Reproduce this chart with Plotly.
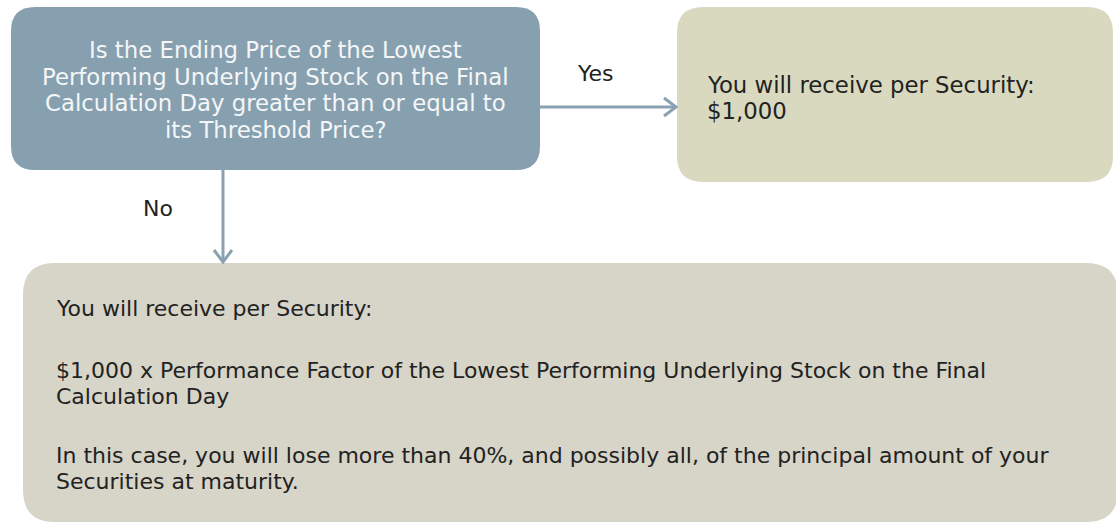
import plotly.graph_objects as go

# ---- Text content ----
question_lines = [
    "Is the Ending Price of the Lowest",
    "Performing Underlying Stock on the Final",
    "Calculation Day greater than or equal to",
    "its Threshold Price?",
]
yes_label = "Yes"
no_label = "No"
yes_outcome_lines = ["You will receive per Security:", "$1,000"]
no_outcome_lines = [
    "You will receive per Security:",
    "$1,000 x Performance Factor of the Lowest Performing Underlying Stock on the Final",
    "Calculation Day",
    "In this case, you will lose more than 40%, and possibly all, of the principal amount of your",
    "Securities at maturity.",
]

# ---- Layout geometry (page pixels, y downward) ----
W, H = 1116, 523
BLUE = "#87a0b0"
GREEN = "#d9d9c0"
BEIGE = "#d7d4c8"
ARROW = "#8aa1b1"
FONT = "DejaVu Sans, Verdana, sans-serif"
FS = 22
FS_TOP = 22.8

q_box = (11, 7, 540, 170, 24)
yes_box = (677, 7, 1113, 182, 26)
no_box = (23, 263, 1118, 522, 32)
q_line_y = [50, 77, 103, 130]
yes_line_y = [85, 111]
no_line_y = [308, 370, 396, 455, 481]


def rrect(x0, y0, x1, y1, r):
    return (f"M {x0+r},{y0} L {x1-r},{y0} Q {x1},{y0} {x1},{y0+r} "
            f"L {x1},{y1-r} Q {x1},{y1} {x1-r},{y1} L {x0+r},{y1} "
            f"Q {x0},{y1} {x0},{y1-r} L {x0},{y0+r} Q {x0},{y0} {x0+r},{y0} Z")


fig = go.Figure()
shapes = []
for box, col in [(q_box, BLUE), (yes_box, GREEN), (no_box, BEIGE)]:
    shapes.append(dict(type="path", path=rrect(*box), fillcolor=col,
                       line=dict(width=0), layer="below"))

# Yes arrow (horizontal)
ay = 107
shapes.append(dict(type="line", x0=q_box[2], y0=ay, x1=yes_box[0] - 2, y1=ay,
                   line=dict(color=ARROW, width=3)))
shapes.append(dict(type="path",
                   path=f"M {yes_box[0]-13},{ay-9} L {yes_box[0]-1},{ay} L {yes_box[0]-13},{ay+9}",
                   line=dict(color=ARROW, width=3)))
# No arrow (vertical)
ax = 223
shapes.append(dict(type="line", x0=ax, y0=q_box[3], x1=ax, y1=no_box[1] - 2,
                   line=dict(color=ARROW, width=3)))
shapes.append(dict(type="path",
                   path=f"M {ax-9},{no_box[1]-13} L {ax},{no_box[1]-1} L {ax+9},{no_box[1]-13}",
                   line=dict(color=ARROW, width=3)))

ann = []
qcx = (q_box[0] + q_box[2]) / 2
for t, y in zip(question_lines, q_line_y):
    ann.append(dict(x=qcx, y=y, text=t, xanchor="center", yanchor="middle",
                    showarrow=False, font=dict(family=FONT, size=FS_TOP, color="#f4f6f7")))
for t, y in zip(yes_outcome_lines, yes_line_y):
    ann.append(dict(x=705, y=y, text=t, xanchor="left", yanchor="middle",
                    showarrow=False, font=dict(family=FONT, size=FS_TOP, color="#222222")))
for t, y in zip(no_outcome_lines, no_line_y):
    ann.append(dict(x=54, y=y, text=t, xanchor="left", yanchor="middle",
                    showarrow=False, font=dict(family=FONT, size=FS, color="#222222")))
ann.append(dict(x=595, y=73, text=yes_label, xanchor="center", yanchor="middle",
                showarrow=False, font=dict(family=FONT, size=FS, color="#222222")))
ann.append(dict(x=158, y=208, text=no_label, xanchor="center", yanchor="middle",
                showarrow=False, font=dict(family=FONT, size=FS, color="#222222")))

fig.update_layout(
    width=W, height=H,
    margin=dict(l=0, r=0, t=0, b=0),
    paper_bgcolor="white", plot_bgcolor="white",
    xaxis=dict(range=[0, W], visible=False, fixedrange=True),
    yaxis=dict(range=[H, 0], visible=False, fixedrange=True),
    shapes=shapes, annotations=ann, showlegend=False,
)
fig.write_html(
    "out.html",
    config={"displayModeBar": False},
    post_script="document.body.style.margin='0';document.body.style.overflow='hidden';",
)
